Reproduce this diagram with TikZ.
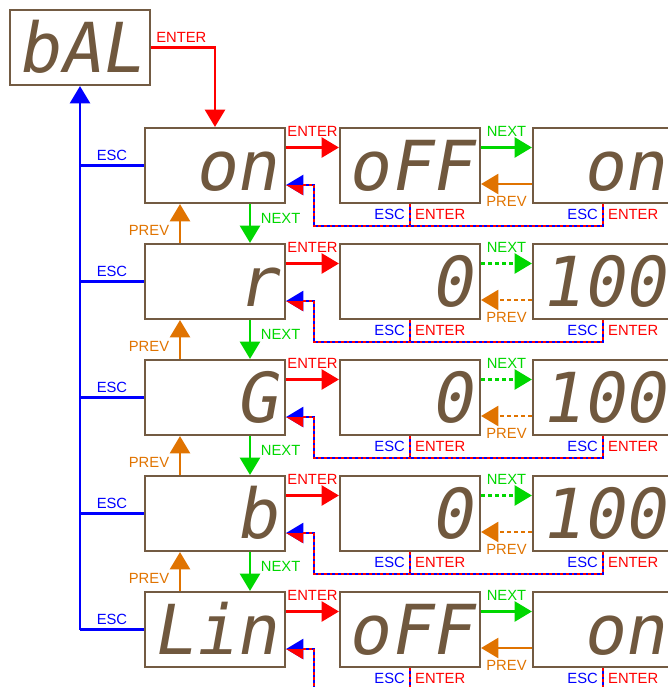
\documentclass[tikz,border=0pt]{standalone}
\usepackage{fontspec}
\usepackage{tikz}
\usetikzlibrary{arrows.meta, positioning, calc}
\setmainfont{Liberation Sans}
\newfontfamily\segfont[FakeSlant=0.18]{DejaVu Sans Mono}
\definecolor{cBox}{RGB}{115,91,67}
\definecolor{cSeg}{RGB}{112,88,62}
\definecolor{cRed}{RGB}{255,0,0}
\definecolor{cGreen}{RGB}{0,215,0}
\definecolor{cOrange}{RGB}{224,115,0}
\definecolor{cBlue}{RGB}{0,0,255}
\tikzset{
	disp/.style={rectangle, draw=cBox, line width=1.5pt, fill=white, minimum width=3.5cm, minimum height=1.875cm, inner sep=0pt, text width=3.1cm, text height=1.25cm, text depth=0pt, text=cSeg, font=\segfont\fontsize{49}{50}\selectfont},
	dispL/.style={disp, align=left},
	dispR/.style={disp, align=right},
	bigtip/.style={-{Triangle[length=4.3mm, width=5mm]}},
	enterarrow/.style={bigtip, draw=cRed, line width=1.5pt},
	nextarrow/.style={bigtip, draw=cGreen, line width=1.5pt},
	prevarrow/.style={bigtip, draw=cOrange, line width=1.5pt},
	escline/.style={draw=cBlue, line width=1.5pt},
	escback/.style={draw=cBlue, line width=1.5pt},
	enterback/.style={draw=cRed, line width=1.5pt, dash pattern=on 2pt off 2pt},
	dotline/.style={dash pattern=on 3pt off 2pt},
	% key labels
	lbl/.style={font=\fontsize{10.5}{12}\selectfont, inner sep=1pt, text height=7.5pt, text depth=0pt},
}
\begin{document}
\begin{tikzpicture}[x=0.025cm, y=-0.025cm]
	\clip (0,0) rectangle (668,687);
	\node[dispL] (bal) at (80,47.5) {bAL};
	\foreach \i/\lt/\ls/\mt/\rt/\ds in {1/on/dispR/oFF/on/solid, 2/r/dispR/0/100/dotline, 3/G/dispR/0/100/dotline, 4/b/dispR/0/100/dotline, 5/Lin/dispL/oFF/on/solid} {
		\node[\ls] (l\i) at (215,49.5+116*\i) {\lt};
		\node[dispR] (m\i) at (410,49.5+116*\i) {\mt};
		\node[dispR] (r\i) at (603,49.5+116*\i) {\rt};
		\draw[enterarrow] ($(l\i.east)+(0,-18)$) -- ($(m\i.west)+(0,-18)$) node[lbl, text=cRed, midway, above=6pt] (ent\i) {ENTER};
		\draw[nextarrow, \ds] ($(m\i.east)+(0,-18)$) -- ($(r\i.west)+(0,-18)$) node[lbl, text=cGreen, midway, above=6pt] (nxt\i) {NEXT};
		\draw[prevarrow, \ds] ($(r\i.west)+(0,18.5)$) -- ($(m\i.east)+(0,18.5)$) node[lbl, text=cOrange, midway, below=7pt] (prv\i) {PREV};
		\foreach \n in {m\i, r\i} {
			\node[lbl, text=cBlue, below left=2pt and 2.5pt] (esc\n) at (\n.south) {ESC};
			\node[lbl, text=cRed, below right=2pt and 2.5pt] (ent\n) at (\n.south) {ENTER};
		}
		% way back (ESC / ENTER)
		\coordinate (c\i) at ($(l\i.east)+(28,60.5)$);
		\coordinate (t\i) at ($(l\i.east)+(0,19.5)$);
		\draw[escback, bigtip] (r\i.south) |- (c\i) |- (t\i);
		\draw[escback] (m\i.south) -- (m\i.south |- c\i);
		\draw[enterback, shorten >=4.3mm] (r\i.south) |- (c\i) |- (t\i);
		\draw[enterback] (m\i.south) -- (m\i.south |- c\i);
		\begin{scope}
			\clip (t\i) rectangle ($(t\i)+(17,12)$);
			\draw[enterback, solid, bigtip] ($(t\i)+(20,0)$) -- (t\i);
		\end{scope}
		\draw[escline] (l\i.west) -- (l\i.west -| bal.south) node[lbl, text=cBlue, midway, above=1.5pt] (esc\i) {ESC};
	}
	\foreach \i/\j in {1/2, 2/3, 3/4, 4/5} {
		\draw[nextarrow] ($(l\i.south)+(35,0)$) -- ($(l\j.north)+(35,0)$) node[lbl, text=cGreen, midway, right=6pt, yshift=4pt] (vn\i) {NEXT};
		\draw[prevarrow] ($(l\j.north)+(-35,0)$) -- ($(l\i.south)+(-35,0)$) node[lbl, text=cOrange, midway, left=6pt, yshift=-4.6pt] (vp\i) {PREV};
	}
	\draw[escline, bigtip] (l5.west -| bal.south) -- (bal.south);
	\draw[enterarrow] (bal.east) node[lbl, text=cRed, anchor=south west, xshift=2pt, yshift=2pt] (ent0) {ENTER} -| (l1.north);
\end{tikzpicture}
\end{document}
